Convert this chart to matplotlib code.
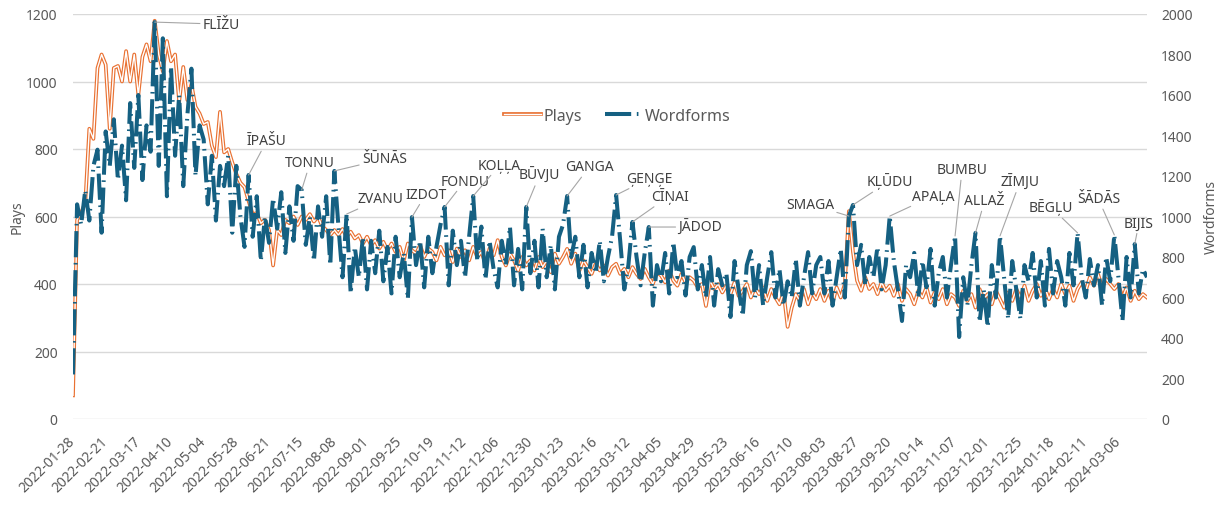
import numpy as np
import pandas as pd
import matplotlib
matplotlib.use('Agg')
import matplotlib.pyplot as plt
import matplotlib.dates as mdates
import matplotlib.patheffects as pe

plt.rcParams['font.family'] = ['Noto Sans', 'DejaVu Sans']

# sampled every 3 days from 2022-01-28
dates = pd.date_range('2022-01-28', periods=264, freq='3D')

plays = [
    70, 590, 612, 640, 860, 830, 1040, 1080,
    1050, 860, 1040, 1046, 1000, 1090, 1000, 1080,
    960, 1073, 1110, 1060, 1180, 1080, 1030, 1120,
    1060, 1080, 940, 1043, 945, 992, 925, 905,
    874, 880, 810, 776, 910, 790, 800, 760,
    726, 700, 687, 646, 607, 610, 580, 590,
    560, 455, 560, 545, 590, 580, 600, 575,
    600, 590, 607, 585, 600, 572, 560, 545,
    560, 545, 563, 540, 555, 535, 545, 520,
    540, 515, 530, 505, 525, 500, 520, 495,
    510, 470, 520, 500, 490, 515, 480, 505,
    495, 470, 510, 485, 500, 465, 505, 480,
    500, 470, 510, 480, 495, 460, 505, 485,
    530, 480, 455, 490, 470, 440, 480, 455,
    470, 440, 480, 450, 470, 435, 490, 460,
    480, 504, 460, 490, 440, 470, 450, 430,
    460, 440, 455, 425, 450, 460, 430, 445,
    420, 450, 430, 415, 445, 420, 400, 435,
    425, 405, 440, 410, 395, 430, 405, 420,
    410, 390, 400, 335, 410, 385, 400, 375,
    395, 370, 405, 365, 380, 400, 360, 390,
    370, 390, 350, 385, 360, 340, 375, 273,
    330, 370, 350, 385, 340, 375, 355, 385,
    350, 380, 345, 390, 360, 400, 616, 495,
    410, 380, 420, 385, 400, 370, 405, 380,
    395, 365, 400, 350, 385, 370, 340, 380,
    360, 390, 345, 375, 355, 385, 340, 370,
    360, 335, 380, 350, 370, 330, 385, 355,
    370, 340, 380, 355, 330, 375, 350, 385,
    360, 395, 350, 380, 400, 365, 390, 355,
    385, 360, 400, 370, 395, 350, 385, 405,
    380, 420, 395, 430, 390, 415, 400, 385,
    400, 360, 390, 350, 380, 355, 370, 360,
]

wordforms = [
    220, 1060, 960, 1130, 980, 1250, 1330, 920,
    1420, 1250, 1480, 1180, 1350, 1080, 1560, 1240,
    1600, 1180, 1450, 1320, 1960, 1250, 1880, 1100,
    1740, 1300, 1600, 1150, 1500, 1730, 1200, 1450,
    1380, 1060, 1300, 980, 1250, 1150, 1300, 920,
    1250, 1000, 850, 1205, 900, 1100, 780, 1000,
    870, 1090, 940, 1120, 820, 1050, 880, 1150,
    1131, 860, 1000, 780, 1050, 900, 1100, 760,
    1225, 950, 700, 1012, 620, 850, 700, 900,
    640, 880, 720, 930, 680, 850, 620, 900,
    700, 820, 593, 997, 760, 880, 650, 900,
    720, 850, 960, 1047, 660, 930, 760, 880,
    700, 900, 1101, 780, 950, 690, 880, 740,
    650, 880, 760, 950, 660, 840, 640, 1047,
    720, 880, 650, 940, 700, 860, 640, 900,
    960, 1101, 800, 900, 700, 860, 650, 820,
    720, 880, 680, 800, 900, 1106, 880, 640,
    760, 973, 800, 660, 820, 948, 560, 760,
    680, 820, 620, 874, 700, 780, 610, 800,
    849, 640, 760, 600, 800, 560, 740, 660,
    720, 504, 780, 640, 509, 760, 829, 600,
    760, 560, 700, 824, 600, 740, 560, 680,
    600, 790, 560, 700, 824, 620, 760, 800,
    620, 780, 560, 700, 840, 600, 1002, 1057,
    760, 860, 660, 800, 700, 850, 640, 760,
    1002, 780, 640, 484, 760, 700, 820, 600,
    780, 650, 840, 560, 720, 800, 600, 760,
    904, 405, 700, 560, 760, 919, 479, 640,
    454, 760, 600, 904, 700, 494, 780, 640,
    494, 760, 680, 820, 600, 780, 560, 840,
    620, 780, 700, 560, 820, 660, 919, 700,
    600, 790, 660, 760, 560, 800, 680, 909,
    700, 484, 800, 600, 864, 620, 740, 700,
]

tick_dates = pd.date_range('2022-01-28', '2024-03-06', freq='24D')

words = ['FLĪŽU', 'ĪPAŠU', 'TONNU', 'ŠŪNĀS', 'ZVANU', 'IZDOT', 'FONDU', 'KOĻĻA',
         'BŪVJU', 'GANGA', 'ĢEŅĢE', 'CĪŅAI', 'JĀDOD', 'SMAGA', 'KĻŪDU', 'APAĻA',
         'BUMBU', 'ALLAŽ', 'ZĪMJU', 'BĒGĻU', 'ŠĀDĀS', 'BIJIS']
word_idx = [20, 43, 56, 64, 67, 83, 91, 98, 111, 121, 133, 137, 141,
            190, 191, 200, 216, 221, 227, 246, 255, 260]
# label offsets (points) from the marked point
label_off = [(48, -1.5), (13, 24.5), (6, 19.5), (36, 8.6), (24.5, 11), (10, 16.5),
             (14.5, 18.7), (19, 22.3), (9.5, 23), (16, 21), (24, 12), (27, 19),
             (37, 0), (-28, 8.6), (26.5, 17.3), (31, 14.4), (5, 47.5), (6.5, 23),
             (14.4, 39), (-19.4, 18.7), (-11.5, 26), (3, 15)]

blue = '#156082'
orange = '#E97132'
grey = '#595959'

fig = plt.figure(figsize=(12.17, 5.06), dpi=100)
ax = fig.add_axes([73/1217, 1 - 420/506, (1147 - 73)/1217, 405/506])
ax2 = ax.twinx()

l1, = ax.plot(dates, plays, color='white', lw=1.0, solid_joinstyle='round',
              path_effects=[pe.Stroke(linewidth=2.7, foreground=orange), pe.Normal()],
              label='Plays')
l2, = ax2.plot(dates, wordforms, color=blue, lw=2.9, dash_capstyle='butt',
               linestyle=(0, (6.5, 1.4, 0.4, 1.4)), label='Wordforms')

ax.set_ylim(0, 1200)
ax2.set_ylim(0, 2000)
ax.set_yticks(np.arange(0, 1201, 200))
ax2.set_yticks(np.arange(0, 2001, 200))
ax.set_xlim(dates[0], dates[-1])
ax.set_xticks(tick_dates)
ax.xaxis.set_major_formatter(mdates.DateFormatter('%Y-%m-%d'))
ax.grid(axis='y', color='#D9D9D9', lw=1.0)
ax.set_axisbelow(True)

for a in (ax, ax2):
    for s in a.spines.values():
        s.set_visible(False)
    a.tick_params(length=0, labelcolor=grey, labelsize=10)
ax.tick_params(axis='y', pad=11)
ax2.tick_params(axis='y', pad=10)
ax.tick_params(axis='x', pad=14)
for t in ax.get_xticklabels():
    t.set_rotation(45)
    t.set_ha('right')
    t.set_va('center')
    t.set_rotation_mode('anchor')

ax.set_ylabel('Plays', color=grey, fontsize=10, labelpad=1)
ax2.set_ylabel('Wordforms', color=grey, fontsize=10, labelpad=8)

for w, i, off in zip(words, word_idx, label_off):
    ax2.annotate(w, xy=(dates[i], wordforms[i]), xytext=off, textcoords='offset points',
                 ha='center', va='center', fontsize=10, color='#404040',
                 annotation_clip=False,
                 arrowprops=dict(arrowstyle='-', color='#A6A6A6', lw=0.8,
                                 shrinkA=0, shrinkB=0))

fig.legend(handles=[l1, l2], loc='center', bbox_to_anchor=(617/1217, 1 - 117/506),
           ncol=2, frameon=False, fontsize=11.5, handlelength=2.3,
           handletextpad=0.2, columnspacing=1.4, labelcolor=grey)

fig.savefig('out.png', dpi=100)
